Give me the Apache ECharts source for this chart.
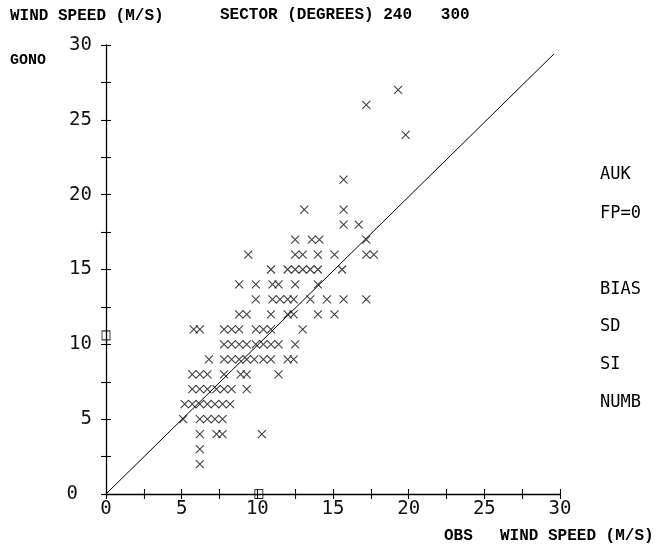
<!DOCTYPE html>
<html>
<head>
<meta charset="utf-8">
<script src="https://cdn.jsdelivr.net/npm/echarts@6/dist/echarts.min.js"></script>
<style>
html,body{margin:0;padding:0;background:#fff;}
#chart{width:670px;height:553px;}
</style>
</head>
<body>
<div id="chart"></div>
<script>
// GONO (model) wind speed levels and observed wind speeds at each level
var gonoLevels = [2, 3, 4, 5, 6, 7, 8, 9, 10, 11, 12, 13, 14, 15, 16, 17, 18, 19, 21, 24, 26, 27];
var obsAtLevel = [
  [6.2],
  [6.2],
  [6.2, 7.3, 7.7, 10.3],
  [5.1, 6.2, 6.7, 7.2, 7.7],
  [5.2, 5.7, 6.2, 6.7, 7.2, 7.7, 8.2],
  [5.7, 6.2, 6.7, 7.3, 7.8, 8.3, 9.3],
  [5.7, 6.2, 6.7, 7.8, 8.9, 9.3, 11.4],
  [6.8, 7.8, 8.3, 8.8, 9.3, 9.8, 10.4, 10.9, 12.0, 12.4],
  [7.8, 8.3, 8.8, 9.3, 9.9, 10.4, 10.9, 11.4, 12.5],
  [5.8, 6.2, 7.8, 8.3, 8.8, 9.9, 10.4, 10.9, 13.0],
  [8.8, 9.3, 10.9, 12.0, 12.4, 14.0, 15.1],
  [9.9, 11.0, 11.5, 12.0, 12.4, 13.5, 14.6, 15.7, 17.2],
  [8.8, 9.9, 11.0, 11.4, 12.5, 14.0],
  [10.9, 12.0, 12.5, 13.0, 13.5, 14.0, 15.6],
  [9.4, 12.5, 13.0, 14.0, 15.1, 17.2, 17.7],
  [12.5, 13.6, 14.1, 17.2],
  [15.7, 16.7],
  [13.1, 15.7],
  [15.7],
  [19.8],
  [17.2],
  [19.3]
];
// mean markers (squares on the axes)
var meanObs = 10.1;
var meanGono = 10.6;
// 1:1 reference line
var refLineX = [0, 29.6];
var refLineY = [0, 29.4];
// axis tick labels
var tickValues = [0, 5, 10, 15, 20, 25, 30];

var points = [];
gonoLevels.forEach(function (g, i) {
  obsAtLevel[i].forEach(function (o) { points.push([o, g]); });
});

var GRID_W = 454, GRID_H = 449;
var chart = echarts.init(document.getElementById('chart'), null, {renderer: 'canvas'});
var tickFont = {fontFamily: 'DejaVu Sans Mono', fontSize: 19, color: '#111', fontWeight: 'normal'};
function xl(v) { return tickValues.indexOf(v) >= 0 ? String(v) : ''; }
function yl(v) {
  if (tickValues.indexOf(v) < 0) return '';
  return v === 0 ? '{z|0}' : String(v);
}
var monoBold = 'Liberation Mono';
var tickStyle = {color: '#000', width: 1.1};

var option = {
  backgroundColor: '#fff',
  animation: false,
  grid: {left: 106, top: 45, width: GRID_W, height: GRID_H, containLabel: false},
  xAxis: [
    {type: 'value', min: 0, max: 30, interval: 2.5, position: 'bottom',
     axisLine: {show: true, onZero: false, lineStyle: {color: '#000', width: 1.3}},
     axisTick: {show: true, inside: false, length: 5, lineStyle: tickStyle},
     axisLabel: Object.assign({margin: 6, formatter: xl, showMaxLabel: true, showMinLabel: true}, tickFont),
     splitLine: {show: false}},
    {type: 'value', min: 0, max: 30, interval: 2.5, position: 'top', offset: -GRID_H,
     axisLine: {show: false, onZero: false},
     axisTick: {show: true, inside: false, length: 5, lineStyle: tickStyle},
     axisLabel: {show: false}, splitLine: {show: false}}
  ],
  yAxis: [
    {type: 'value', min: 0, max: 30, interval: 2.5, position: 'left',
     axisLine: {show: true, onZero: false, lineStyle: {color: '#000', width: 1.3}},
     axisTick: {show: true, inside: false, length: 5, lineStyle: tickStyle},
     axisLabel: Object.assign({margin: 14, formatter: yl, showMaxLabel: true, showMinLabel: true,
       rich: {z: {fontFamily: 'DejaVu Sans Mono', fontSize: 19, color: '#111', padding: [0, 14, 0, 0]}}}, tickFont),
     splitLine: {show: false}},
    {type: 'value', min: 0, max: 30, interval: 2.5, position: 'right', offset: -GRID_W,
     axisLine: {show: false, onZero: false},
     axisTick: {show: true, inside: false, length: 5, lineStyle: tickStyle},
     axisLabel: {show: false}, splitLine: {show: false}}
  ],
  series: [
    {type: 'line', xAxisIndex: 0, yAxisIndex: 0, silent: true, symbol: 'none',
     data: [[refLineX[0], refLineY[0]], [refLineX[1], refLineY[1]]],
     lineStyle: {color: '#000', width: 1}},
    {type: 'scatter', xAxisIndex: 0, yAxisIndex: 0, silent: true, clip: false,
     symbol: 'path://M0 0L10 10M10 0L0 10', symbolSize: 8,
     itemStyle: {color: 'transparent', borderColor: '#111', borderWidth: 1.1},
     data: points},
    {type: 'scatter', xAxisIndex: 0, yAxisIndex: 0, silent: true, clip: false,
     symbol: 'rect', symbolSize: [8, 9],
     itemStyle: {color: 'transparent', borderColor: '#000', borderWidth: 1},
     data: [[0, meanGono], [meanObs, 0]]}
  ],
  graphic: [
    {type: 'text', left: 10, top: 8, style: {text: 'WIND SPEED (M/S)', font: 'bold 16px "' + monoBold + '"', fill: '#000'}},
    {type: 'text', left: 220, top: 7, style: {text: 'SECTOR (DEGREES) 240   300', font: 'bold 16px "' + monoBold + '"', fill: '#000'}},
    {type: 'text', left: 10, top: 53, style: {text: 'GONO', font: 'bold 15px "' + monoBold + '"', fill: '#000'}},
    {type: 'text', left: 600, top: 166, style: {text: 'AUK', font: '17px "DejaVu Sans Mono"', fill: '#000'}},
    {type: 'text', left: 600, top: 205, style: {text: 'FP=0', font: '17px "DejaVu Sans Mono"', fill: '#000'}},
    {type: 'text', left: 600, top: 281, style: {text: 'BIAS', font: '17px "DejaVu Sans Mono"', fill: '#000'}},
    {type: 'text', left: 600, top: 318, style: {text: 'SD', font: '17px "DejaVu Sans Mono"', fill: '#000'}},
    {type: 'text', left: 600, top: 356, style: {text: 'SI', font: '17px "DejaVu Sans Mono"', fill: '#000'}},
    {type: 'text', left: 600, top: 394, style: {text: 'NUMB', font: '17px "DejaVu Sans Mono"', fill: '#000'}},
    {type: 'text', left: 444, top: 528, style: {text: 'OBS', font: 'bold 16px "' + monoBold + '"', fill: '#000'}},
    {type: 'text', left: 500, top: 528, style: {text: 'WIND SPEED (M/S)', font: 'bold 16px "' + monoBold + '"', fill: '#000'}}
  ]
};
chart.setOption(option);
</script>
</body>
</html>
